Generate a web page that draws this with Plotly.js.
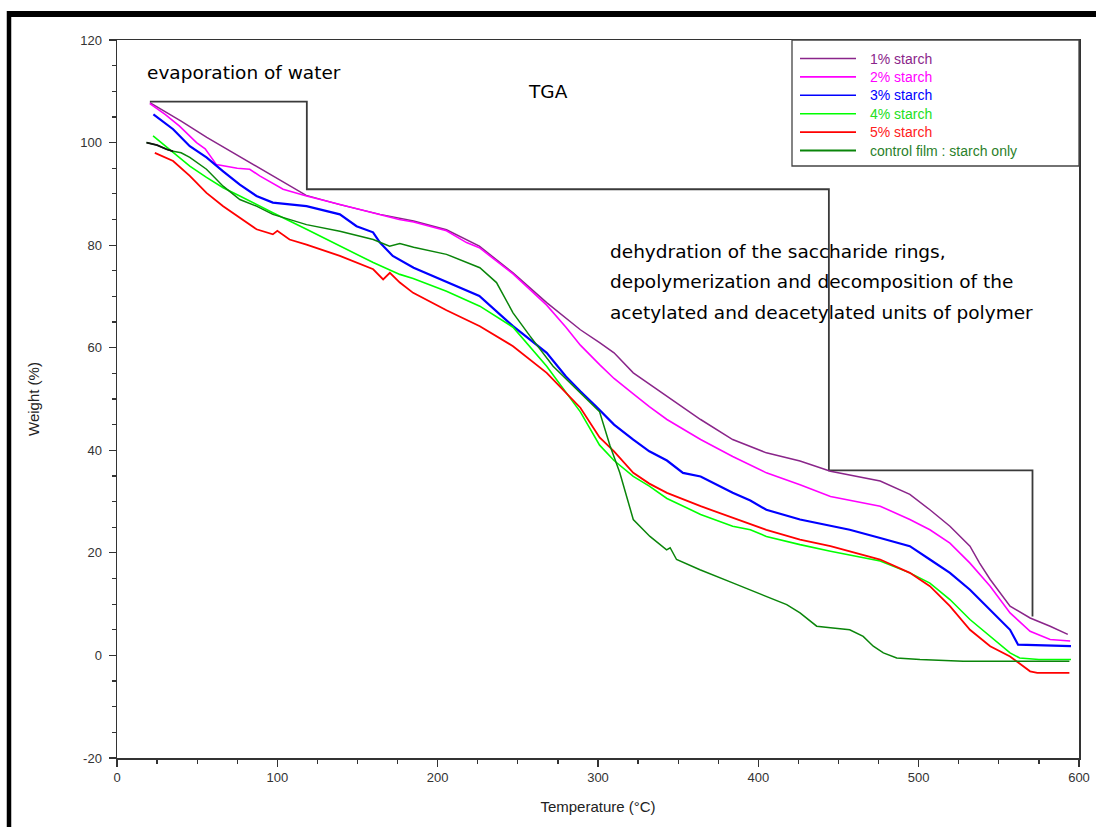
<!DOCTYPE html>
<html>
<head>
<meta charset="utf-8">
<script src="https://cdn.plot.ly/plotly-3.0.1.min.js"></script>
<style>
html,body{margin:0;padding:0;background:#fff;}
#chart{width:1096px;height:827px;}
</style>
</head>
<body>
<div id="chart"></div>
<script>
// ---- data ----
const seriesNames = ["1% starch", "2% starch", "3% starch", "4% starch", "5% starch", "control film : starch only"];

const temp1 = [20.5, 40, 56, 87, 118, 139, 164, 185, 205.5, 226, 247, 268, 289, 301, 310, 322, 343, 364, 384, 405, 426, 445, 476, 494.5, 507, 519.5, 532, 538, 544.6, 557, 569.5, 582, 593];
const weight1 = [107.8, 104.2, 101.0, 95.3, 89.7, 87.9, 86.0, 84.7, 83.0, 79.8, 74.6, 68.8, 63.5, 61.0, 59.0, 55.1, 50.5, 46.0, 42.1, 39.5, 37.9, 35.9, 34.0, 31.4, 28.4, 25.2, 21.3, 18.0, 14.8, 9.6, 7.3, 5.7, 4.1];

const temp2 = [20.5, 30, 39, 49.6, 55, 62, 75, 82.8, 89, 103.6, 118.2, 139, 160, 176, 185, 205.5, 218, 226, 247, 260, 268, 280, 289, 301, 310, 322, 332, 343, 364, 384, 405, 426, 445, 476, 494.5, 507, 519.5, 532, 544.6, 557, 569.5, 582, 594.5];
const weight2 = [107.6, 105.5, 103.2, 100.0, 98.8, 95.7, 95.0, 94.8, 93.5, 90.9, 89.6, 87.9, 86.3, 85.0, 84.5, 82.8, 80.5, 79.5, 74.4, 70.5, 68.3, 64.0, 60.5, 56.7, 54.0, 51.0, 48.5, 46.0, 42.1, 38.8, 35.6, 33.3, 31.0, 29.1, 26.5, 24.5, 21.9, 18.0, 13.5, 8.3, 4.7, 3.1, 2.8];

const temp3 = [22.7, 35, 45.4, 55.8, 66.2, 76.6, 87, 97.2, 118.2, 139, 149.4, 159.7, 164, 172, 185, 205.6, 226, 247, 268, 280, 289, 299, 310, 322, 332, 343, 353, 364, 384, 395, 405, 426, 445, 457, 476, 494.5, 507, 519.5, 532, 544.6, 557, 562, 575, 595];
const weight3 = [105.5, 102.6, 99.3, 97.1, 94.4, 91.8, 89.6, 88.3, 87.6, 86.0, 83.7, 82.5, 80.5, 77.9, 75.6, 72.8, 70.1, 64.2, 59.0, 54.4, 51.5, 48.5, 45.0, 42.1, 39.8, 38.0, 35.6, 34.9, 31.7, 30.2, 28.4, 26.5, 25.2, 24.5, 22.9, 21.3, 18.7, 16.1, 12.8, 8.9, 5.0, 2.1, 2.0, 1.8];

const temp4 = [22.5, 35, 45.4, 55.8, 66.2, 76.6, 97.2, 118.2, 139, 159.8, 176.4, 184.7, 205.5, 226.3, 247, 268, 289, 301, 310, 322, 332, 343, 364, 384, 395, 405, 426, 445, 476, 494.5, 507, 519.5, 532, 544.6, 557, 563, 575, 595];
const weight4 = [101.3, 98.0, 95.4, 93.2, 91.2, 89.6, 86.3, 83.1, 79.8, 76.6, 74.3, 73.5, 71.0, 68.1, 64.0, 56.4, 47.5, 41.0, 38.0, 34.9, 33.0, 30.6, 27.5, 25.2, 24.5, 23.2, 21.6, 20.3, 18.4, 16.1, 14.1, 10.9, 7.0, 3.7, 0.5, -0.5, -0.8, -0.8];

const temp5 = [23.6, 35, 45.4, 55.8, 66.2, 76.6, 87, 97.2, 100, 107.6, 118.2, 139, 159.8, 166, 170.2, 176.4, 184.7, 205.5, 226.3, 247, 268, 289, 301, 310, 322, 332, 343, 364, 384, 405, 426, 445, 476, 494.5, 507, 519.5, 532, 544.6, 557, 569.5, 574, 594];
const weight5 = [98.0, 96.4, 93.5, 90.2, 87.6, 85.3, 83.1, 82.1, 82.8, 81.1, 80.1, 77.9, 75.3, 73.3, 74.6, 72.7, 70.7, 67.3, 64.2, 60.3, 55.1, 48.3, 42.5, 39.8, 35.6, 33.5, 31.7, 29.1, 26.8, 24.5, 22.6, 21.3, 18.7, 16.1, 13.5, 9.6, 5.0, 1.8, -0.2, -3.1, -3.4, -3.4];

const tempC = [18.4, 25, 30.9, 35, 40, 45.4, 55.8, 62, 66.2, 76.6, 87, 97.2, 118.2, 139, 159.8, 170, 176.4, 185, 205.5, 226.3, 236.7, 247, 257.5, 272, 284.5, 301, 307.4, 313.6, 322, 332.4, 342.8, 345, 349, 363.6, 384.4, 405.2, 417.7, 426, 436.4, 445, 457, 465.4, 471.7, 478, 486.3, 500.8, 527.8, 594];
const weightC = [100, 99.5, 98.7, 98.3, 98.0, 97.1, 94.8, 92.8, 91.5, 88.9, 87.6, 86.0, 84.0, 82.7, 81.1, 79.8, 80.3, 79.6, 78.2, 75.6, 72.7, 66.8, 62.3, 56.4, 52.5, 47.5, 41.0, 35.6, 26.5, 23.2, 20.6, 21.0, 18.7, 16.7, 14.1, 11.5, 9.9, 8.3, 5.7, 5.4, 5.0, 3.7, 1.8, 0.5, -0.5, -0.8, -1.15, -1.15];

// stepped bracket marking the decomposition stages
const bracketT = [20.5, 118.4, 118.4, 444, 444, 571, 571];
const bracketW = [108, 108, 90.9, 90.9, 36.1, 36.1, 7.6];

const xTicks = [0, 100, 200, 300, 400, 500, 600];
const yTicks = [-20, 0, 20, 40, 60, 80, 100, 120];

// ---- styles ----
const colors = ["#8a258a", "#ff00ff", "#0000ff", "#00ff00", "#ff0000", "#0a850a"];
const textColors = ["#8a258a", "#ff00ff", "#0000ff", "#22e022", "#ff2020", "#2a7f2a"];
const widths = [1.5, 1.6, 2.2, 1.6, 1.8, 1.5];

const temps = [temp1, temp2, temp3, temp4, temp5, tempC];
const weights = [weight1, weight2, weight3, weight4, weight5, weightC];

const traces = [{
  x: bracketT, y: bracketW, mode: 'lines', showlegend: false, hoverinfo: 'skip',
  line: {color: '#3a3a3a', width: 1.8, shape: 'linear'}
}];
for (let i = 0; i < 6; i++) {
  traces.push({
    x: temps[i], y: weights[i], mode: 'lines', name: seriesNames[i], showlegend: false,
    line: {color: colors[i], width: widths[i]}
  });
}
// darker start of the control curve
traces.push({
  x: tempC.slice(0, 4), y: weightC.slice(0, 4), mode: 'lines', showlegend: false, hoverinfo: 'skip',
  line: {color: '#111', width: 1.8}
});

// pixel -> paper helpers (plot area: x 117..1079, y 40..758)
const px = p => (p - 117) / 962;
const py = p => (758 - p) / 718;

const shapes = [
  {type: 'line', xref: 'paper', yref: 'paper', x0: px(7), x1: px(1096), y0: py(14), y1: py(14), line: {color: '#000', width: 6}},
  {type: 'line', xref: 'paper', yref: 'paper', x0: px(9), x1: px(9), y0: py(11), y1: py(827), line: {color: '#000', width: 4.5}},
  // legend frame
  {type: 'rect', xref: 'paper', yref: 'paper', x0: px(792), x1: px(1079), y0: py(166), y1: py(40), fillcolor: '#fff', line: {color: '#444', width: 1.3}, layer: 'above'}
];

const annFont = {family: 'DejaVu Sans', size: 18.5, color: '#000'};
const annotations = [
  {xref: 'x', yref: 'y', x: 17.3, y: 113.7, xanchor: 'left', yanchor: 'middle', showarrow: false, text: 'evaporation of water', font: annFont},
  {xref: 'x', yref: 'y', x: 268.7, y: 110, xanchor: 'center', yanchor: 'middle', showarrow: false, text: 'TGA', font: annFont},
  {xref: 'x', yref: 'y', x: 306.2, y: 78.8, xanchor: 'left', yanchor: 'middle', showarrow: false, text: 'dehydration of the saccharide rings,', font: annFont},
  {xref: 'x', yref: 'y', x: 306.2, y: 72.9, xanchor: 'left', yanchor: 'middle', showarrow: false, text: 'depolymerization and decomposition of the', font: annFont},
  {xref: 'x', yref: 'y', x: 306.2, y: 66.9, xanchor: 'left', yanchor: 'middle', showarrow: false, text: 'acetylated and deacetylated units of polymer', font: annFont}
];

// legend entries (sample line + coloured label)
for (let i = 0; i < seriesNames.length; i++) {
  const yy = py(58.5 + 18.4 * i);
  shapes.push({type: 'line', xref: 'paper', yref: 'paper', x0: px(800), x1: px(856), y0: yy, y1: yy, layer: 'above',
    line: {color: colors[i], width: i === 5 ? 2.2 : 1.6}});
  annotations.push({xref: 'paper', yref: 'paper', x: px(868), y: yy, xanchor: 'left', yanchor: 'middle', showarrow: false,
    text: seriesNames[i], font: {family: 'Arial, Liberation Sans, sans-serif', size: 14, color: textColors[i]}});
}

const layout = {
  width: 1096, height: 827,
  margin: {l: 117, r: 17, t: 40, b: 69},
  paper_bgcolor: '#fff', plot_bgcolor: '#fff',
  showlegend: false,
  font: {family: 'Arial, Liberation Sans, sans-serif', size: 13, color: '#333'},
  xaxis: {
    range: [0, 600], tickvals: xTicks, ticktext: xTicks.map(String),
    showgrid: false, zeroline: false, showline: true, mirror: true,
    linecolor: '#333', linewidth: 1.5,
    ticks: 'outside', ticklen: 7, tickwidth: 1.2, tickcolor: '#333',
    minor: {dtick: 25, ticks: 'outside', ticklen: 4, tickwidth: 1.2, tickcolor: '#333', showgrid: false},
    tickfont: {family: 'Arial, Liberation Sans, sans-serif', size: 13, color: '#333'},
    title: {text: 'Temperature (°C)', font: {size: 15, color: '#222'}, standoff: 17}
  },
  yaxis: {
    range: [-20, 120], tickvals: yTicks, ticktext: yTicks.map(String),
    showgrid: false, zeroline: false, showline: true, mirror: true,
    linecolor: '#333', linewidth: 1.5,
    ticks: 'outside', ticklen: 7, tickwidth: 1.2, tickcolor: '#333',
    ticklabelstandoff: 4,
    minor: {dtick: 5, ticks: 'outside', ticklen: 4, tickwidth: 1.2, tickcolor: '#333', showgrid: false},
    tickfont: {family: 'Arial, Liberation Sans, sans-serif', size: 13, color: '#333'},
    title: {text: 'Weight (%)', font: {size: 15, color: '#222'}, standoff: 37}
  },
  annotations: annotations,
  shapes: shapes
};

Plotly.newPlot('chart', traces, layout, {displayModeBar: false, staticPlot: true});
</script>
</body>
</html>
